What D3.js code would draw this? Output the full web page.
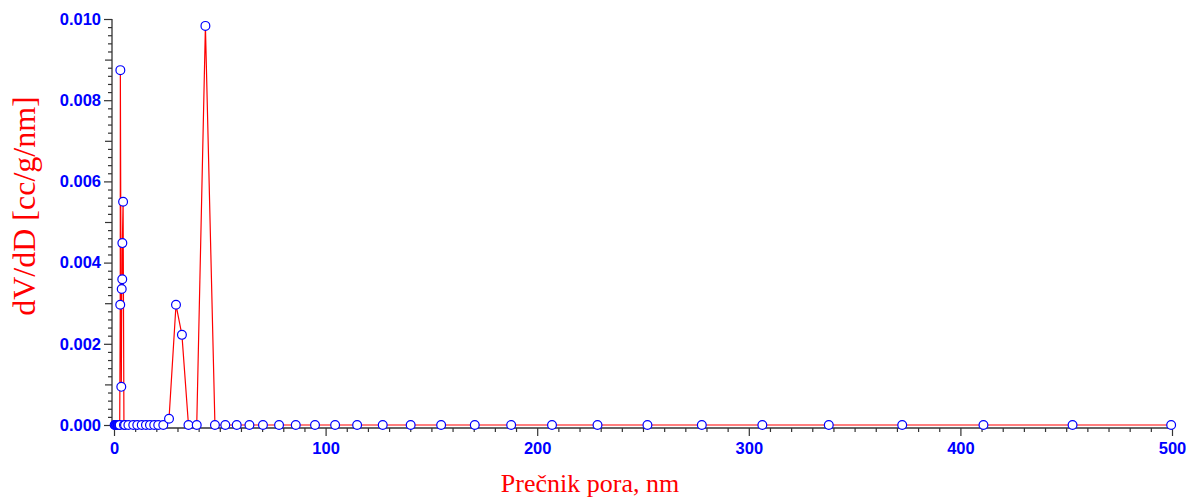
<!DOCTYPE html>
<html>
<head>
<meta charset="utf-8">
<script src="https://cdn.jsdelivr.net/npm/d3@7"></script>
<style>
  html, body { margin: 0; padding: 0; background: #ffffff; }
  svg { display: block; }
</style>
</head>
<body>
<svg id="chart" width="1186" height="497"></svg>
<script>
// Pore size distribution (BJH-style dV/dD vs. pore diameter)
const poreDiameter = [
  0.3, 0.6, 0.9, 1.2, 1.5, 1.8, 2.1, 2.4, 2.7,
  2.95, 3.0, 3.45, 3.65, 3.9, 3.95, 4.3,
  4.7, 5.2, 6.8, 9.1, 11.0, 13.1, 15.1, 17.0, 19.0, 20.9, 23.3,
  26.0, 29.3, 32.1, 35.2, 39.1, 43.2, 47.7, 52.6, 58.0, 64.0, 70.4,
  78.0, 85.9, 95.0, 104.5, 114.9, 127.0, 140.2, 154.6, 170.5, 187.7,
  207.0, 228.5, 252.1, 277.8, 306.4, 337.8, 372.5, 410.9, 453.0, 499.6
];
const dVdD = [
  0, 0, 0, 0, 0, 0, 0, 0, 0,
  0.00296, 0.00874, 0.00094, 0.00335, 0.00359, 0.00448, 0.0055,
  0, 0, 0, 0, 0, 0, 0, 0, 0, 0, 0,
  0.000155, 0.00296, 0.00222, 0, 0, 0.00983, 0, 0, 0, 0, 0,
  0, 0, 0, 0, 0, 0, 0, 0, 0, 0,
  0, 0, 0, 0, 0, 0, 0, 0, 0, 0
];
const xMajorTicks = [0, 100, 200, 300, 400, 500];
const yMajorTicks = [0, 0.002, 0.004, 0.006, 0.008, 0.010];
const xTitle = "Prečnik pora, nm";
const yTitle = "dV/dD [cc/g/nm]";

const svg = d3.select("#chart");

const x = d3.scaleLinear().domain([0, 500]).range([114, 1172]);
const y = d3.scaleLinear().domain([0, 0.010]).range([425, 19]);

const axisColor = "#333333";
const tickFont = "'Liberation Sans', Arial, sans-serif";
const titleFont = "'Liberation Serif', 'Times New Roman', serif";
const axisX0 = 112;   // y-axis line position
const axisY0 = 428;   // x-axis line position

// ---- X axis (bottom) ----
const xAxisG = svg.append("g").attr("transform", `translate(0,${axisY0})`);
const xMinor = d3.range(0, 501, 10).filter(v => v % 100 !== 0);
xAxisG.call(d3.axisBottom(x).tickValues(xMinor).tickSize(4).tickFormat(""))
  .call(g => g.select(".domain").remove());
xAxisG.append("g")
  .call(d3.axisBottom(x).tickValues(xMajorTicks).tickSize(8).tickPadding(6)
    .tickFormat(d3.format("d")))
  .call(g => g.select(".domain").remove())
  .call(g => g.selectAll("text")
    .attr("fill", "#0000ff")
    .attr("font-family", tickFont)
    .attr("font-weight", "bold")
    .attr("font-size", "16.5px"));
xAxisG.selectAll("line").attr("stroke", axisColor).attr("stroke-width", 1.2);
xAxisG.append("line")
  .attr("x1", axisX0).attr("x2", x(500))
  .attr("y1", 0).attr("y2", 0)
  .attr("stroke", axisColor).attr("stroke-width", 1.3);

// ---- Y axis (left) ----
const yAxisG = svg.append("g").attr("transform", `translate(${axisX0},0)`);
const yMinor = d3.range(0, 51).map(i => i * 0.0002)
  .filter((v, i) => i % 5 !== 0);
const yMid = [0.001, 0.003, 0.005, 0.007, 0.009];
yAxisG.call(d3.axisLeft(y).tickValues(yMinor).tickSize(4).tickFormat(""))
  .call(g => g.select(".domain").remove());
yAxisG.append("g")
  .call(d3.axisLeft(y).tickValues(yMid).tickSize(7).tickFormat(""))
  .call(g => g.select(".domain").remove());
yAxisG.append("g")
  .call(d3.axisLeft(y).tickValues(yMajorTicks).tickSize(8).tickPadding(3)
    .tickFormat(d3.format(".3f")))
  .call(g => g.select(".domain").remove())
  .call(g => g.selectAll("text")
    .attr("fill", "#0000ff")
    .attr("font-family", tickFont)
    .attr("font-weight", "bold")
    .attr("font-size", "16.5px"));
yAxisG.selectAll("line").attr("stroke", axisColor).attr("stroke-width", 1.2);
yAxisG.append("line")
  .attr("x1", 0).attr("x2", 0)
  .attr("y1", y(0.010)).attr("y2", axisY0)
  .attr("stroke", axisColor).attr("stroke-width", 1.3);

// ---- Series ----
const points = poreDiameter.map((d, i) => ({ d, v: dVdD[i] }));

svg.append("path")
  .datum(points)
  .attr("fill", "none")
  .attr("stroke", "#ff0000")
  .attr("stroke-width", 1.2)
  .attr("d", d3.line().x(p => x(p.d)).y(p => y(p.v)));

svg.append("g")
  .selectAll("circle")
  .data(points)
  .join("circle")
  .attr("cx", p => x(p.d))
  .attr("cy", p => y(p.v))
  .attr("r", 4.4)
  .attr("fill", "#ffffff")
  .attr("stroke", "#0000ff")
  .attr("stroke-width", 1.2);

// ---- Titles ----
svg.append("text")
  .attr("x", 590).attr("y", 492)
  .attr("text-anchor", "middle")
  .attr("font-family", titleFont)
  .attr("font-size", "26px")
  .attr("fill", "#ff0000")
  .text(xTitle);

svg.append("text")
  .attr("transform", "translate(35,206) rotate(-90)")
  .attr("text-anchor", "middle")
  .attr("font-family", titleFont)
  .attr("font-size", "32px")
  .attr("fill", "#ff0000")
  .text(yTitle);
</script>
</body>
</html>
